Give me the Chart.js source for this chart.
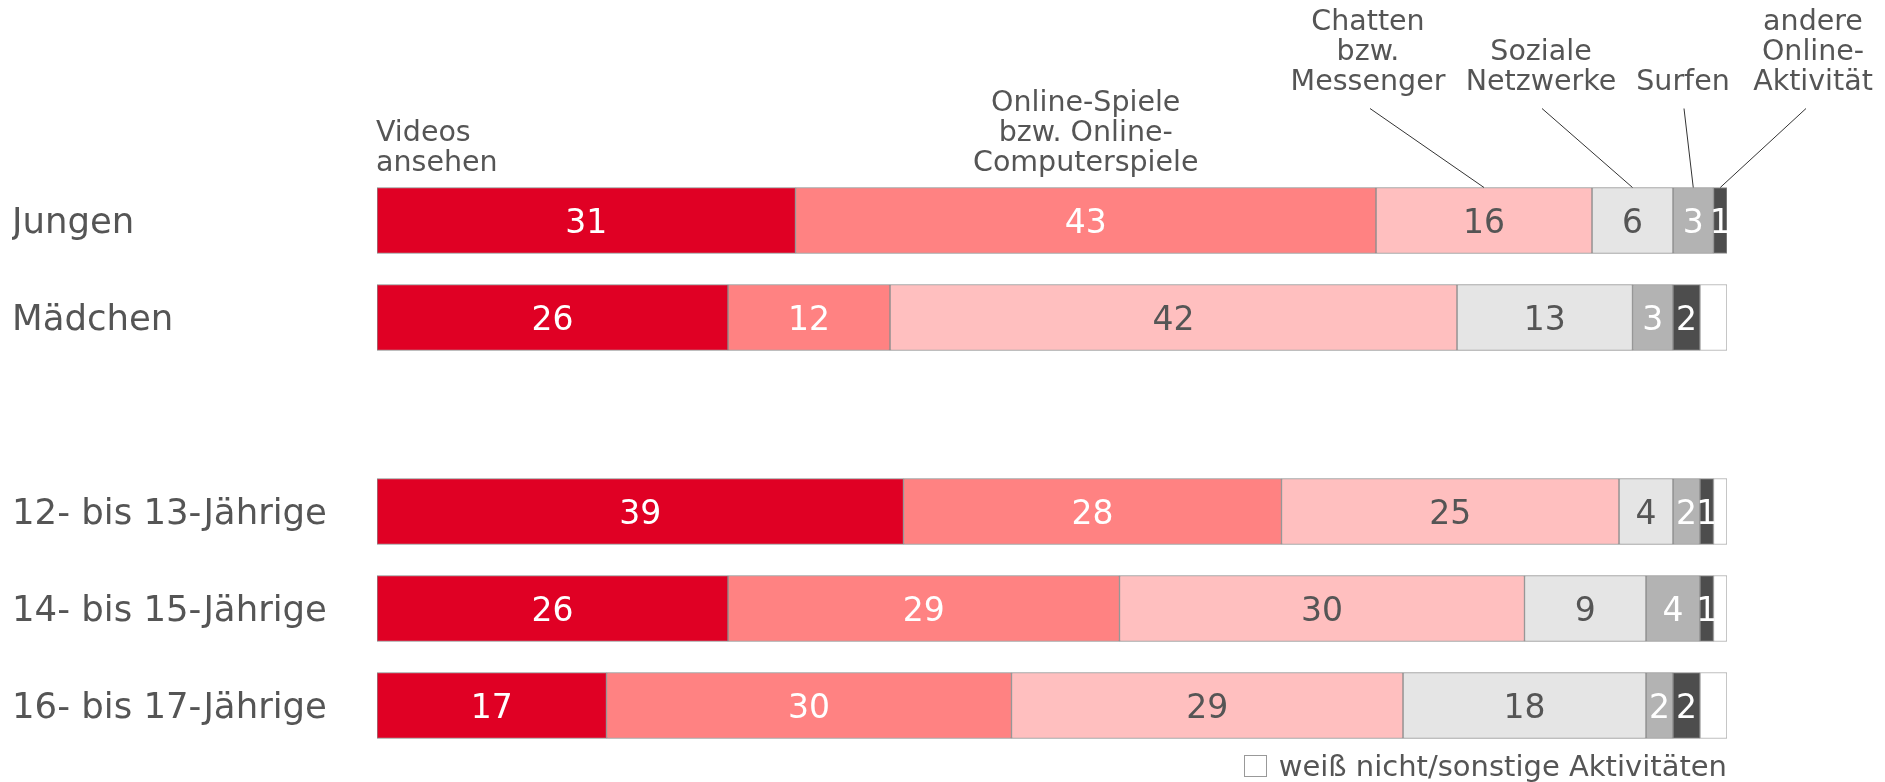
<!DOCTYPE html>
<html>
<head>
<meta charset="utf-8">
<script src="https://cdn.jsdelivr.net/npm/chart.js@4.4.1/dist/chart.umd.min.js"></script>
<style>
  html, body { margin: 0; padding: 0; background: #ffffff; }
  #wrap { width: 1885px; height: 782px; position: relative; }
</style>
</head>
<body>
<div id="wrap"><canvas id="c"></canvas></div>
<script>
// ---- data ----
const categories = ['Jungen', 'Mädchen', '', '12- bis 13-Jährige', '14- bis 15-Jährige', '16- bis 17-Jährige'];
const seriesNames = ['Videos ansehen', 'Online-Spiele bzw. Online-Computerspiele', 'Chatten bzw. Messenger',
                     'Soziale Netzwerke', 'Surfen', 'andere Online-Aktivität', 'weiß nicht/sonstige Aktivitäten'];
const headerLines = [
  ['Videos', 'ansehen'],
  ['Online-Spiele', 'bzw. Online-', 'Computerspiele'],
  ['Chatten', 'bzw.', 'Messenger'],
  ['Soziale', 'Netzwerke'],
  ['Surfen'],
  ['andere', 'Online-', 'Aktivität']
];
const videos     = [31, 26, null, 39, 26, 17];
const spiele     = [43, 12, null, 28, 29, 30];
const chatten    = [16, 42, null, 25, 30, 29];
const sozial     = [6, 13, null, 4, 9, 18];
const surfen     = [3, 3, null, 2, 4, 2];
const andere     = [1, 2, null, 1, 1, 2];
const weissNicht = [0, 2, null, 1, 1, 2];

// ---- styles ----
const colors = ['#E00024', '#FF8282', '#FFBFBF', '#E5E5E5', '#B3B3B3', '#4D4D4D', '#FFFFFF'];
const labelColors = ['#ffffff', '#ffffff', '#555555', '#555555', '#ffffff', '#ffffff', null];
const textColor = '#555555';
const FONT = "'DejaVu Sans', Verdana, sans-serif";

const seriesData = [videos, spiele, chatten, sozial, surfen, andere, weissNicht];

const datasets = seriesData.map((d, i) => ({
  label: seriesNames[i],
  data: d,
  backgroundColor: colors[i],
  borderColor: i === 6 ? '#AAAAAA' : '#8C8C8C',
  borderWidth: 1,
  borderSkipped: false,
  barThickness: 66
}));

// header placement
const headerLayout = [
  { mode: 'left' },
  { mode: 'center' },
  { mode: 'callout', x: 1368, lineStart: 1370 },
  { mode: 'callout', x: 1541, lineStart: 1542 },
  { mode: 'callout', x: 1683, lineStart: 1684 },
  { mode: 'callout', x: 1813, lineStart: 1806 }
];

const overlayPlugin = {
  id: 'overlay',
  afterDatasetsDraw(chart) {
    const ctx = chart.ctx;
    const area = chart.chartArea;
    // value labels
    ctx.save();
    ctx.font = '33px ' + FONT;
    ctx.textAlign = 'center';
    ctx.textBaseline = 'alphabetic';
    chart.data.datasets.forEach((ds, di) => {
      if (!labelColors[di]) return;
      const meta = chart.getDatasetMeta(di);
      meta.data.forEach((bar, idx) => {
        const v = ds.data[idx];
        if (v === null || v === 0) return;
        const cx = (bar.x + bar.base) / 2;
        ctx.fillStyle = labelColors[di];
        ctx.fillText(String(v), cx, bar.y + 12);
      });
    });
    ctx.restore();

    // headers
    ctx.save();
    ctx.font = '28.5px ' + FONT;
    ctx.fillStyle = textColor;
    ctx.textBaseline = 'alphabetic';
    const xs = chart.scales.x;
    const firstMeta = chart.getDatasetMeta(0).data[0];
    const barTop = firstMeta.y - firstMeta.height / 2;
    const lh = 30;
    headerLines.forEach((lines, di) => {
      const lay = headerLayout[di];
      const bar = chart.getDatasetMeta(di).data[0];
      const segCenter = (bar.x + bar.base) / 2;
      let x, baseY;
      if (lay.mode === 'left') {
        ctx.textAlign = 'left';
        x = xs.getPixelForValue(0) - 1;
        baseY = barTop - 17;
      } else if (lay.mode === 'center') {
        ctx.textAlign = 'center';
        x = segCenter;
        baseY = barTop - 17;
      } else {
        ctx.textAlign = 'center';
        x = lay.x;
        baseY = barTop - 98;
        ctx.strokeStyle = '#333333';
        ctx.lineWidth = 1;
        ctx.beginPath();
        ctx.moveTo(lay.lineStart, barTop - 79);
        ctx.lineTo(segCenter, barTop);
        ctx.stroke();
      }
      const n = lines.length;
      lines.forEach((t, li) => {
        ctx.fillText(t, x, baseY - (n - 1 - li) * lh);
      });
    });
    ctx.restore();

    // legend (only the "weiß nicht" series is listed)
    ctx.save();
    ctx.font = '29px ' + FONT;
    ctx.fillStyle = textColor;
    ctx.textBaseline = 'alphabetic';
    ctx.textAlign = 'right';
    const legText = seriesNames[6];
    const tw = ctx.measureText(legText).width;
    ctx.fillText(legText, area.right, 776);
    const bx = Math.round(area.right - tw - 12 - 23);
    ctx.fillStyle = colors[6];
    ctx.fillRect(bx, 755, 23, 22);
    ctx.strokeStyle = '#999999';
    ctx.lineWidth = 1;
    ctx.strokeRect(bx + 0.5, 755.5, 22, 21);
    ctx.restore();
  }
};

new Chart(document.getElementById('c'), {
  type: 'bar',
  data: { labels: categories, datasets },
  options: {
    indexAxis: 'y',
    responsive: true,
    maintainAspectRatio: false,
    animation: false,
    layout: { padding: { left: 12, right: 158, top: 172, bottom: 28 } },
    plugins: {
      legend: { display: false },
      tooltip: { enabled: false }
    },
    scales: {
      x: {
        stacked: true,
        min: 0,
        max: 100,
        display: false
      },
      y: {
        stacked: true,
        grid: { display: false },
        border: { display: false },
        ticks: {
          crossAlign: 'far',
          padding: 0,
          labelOffset: 3,
          color: textColor,
          font: { family: FONT, size: 35.5 }
        },
        afterFit(scale) { scale.width = 365; }
      }
    }
  },
  plugins: [overlayPlugin]
});
</script>
</body>
</html>
